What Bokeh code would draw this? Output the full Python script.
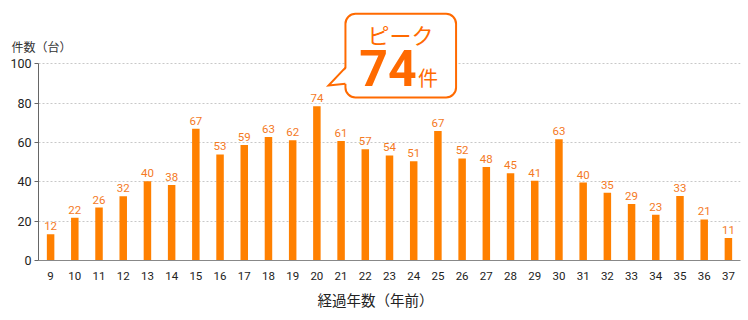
from bokeh.plotting import figure
from bokeh.models import Range1d, FixedTicker, ColumnDataSource, Label, Title
from bokeh.core.properties import value
from bokeh.embed import file_html
from bokeh.resources import INLINE

years = list(range(9, 38))
bar_heights = [13.3, 21.8, 26.9, 32.7, 40.3, 38.4, 67.0, 53.9, 58.7, 62.8, 61.2, 78.4, 60.7,
               56.6, 53.4, 50.5, 65.9, 51.9, 47.6, 44.4, 40.5, 61.7, 39.6, 34.5, 28.7, 23.3,
               32.8, 20.9, 11.4]
label_values = [12, 22, 26, 32, 40, 38, 67, 53, 59, 63, 62, 74, 61, 57, 54, 51, 67, 52, 48,
                45, 41, 63, 40, 35, 29, 23, 33, 21, 11]
y_ticks = [0, 20, 40, 60, 80, 100]
y_title = "件数（台）"
x_title = "経過年数（年前）"
peak_year = 20
peak_value = 74

ORANGE = "#FF8000"
LABEL_ORANGE = "#F47A1F"
CALLOUT = "#FF6A00"
JP = "Noto Sans CJK JP"

p = figure(width=748, height=320, output_backend="svg", toolbar_location=None,
           x_range=Range1d(8.5, 37.5), y_range=Range1d(0, 132.2),
           min_border_left=38, min_border_right=8, min_border_top=0, min_border_bottom=60)
p.outline_line_color = None
p.background_fill_color = "white"
p.border_fill_color = "white"

src = ColumnDataSource(dict(x=years, top=bar_heights, lab=[str(v) for v in label_values]))
p.vbar(x="x", top="top", width=0.31, source=src, fill_color=ORANGE, line_color=None)
p.text(x="x", y="top", text="lab", source=src, text_align="center", text_baseline="bottom",
       y_offset=-4, text_color=LABEL_ORANGE, text_font_size="11.5px", text_font=value("Roboto"))

# axes
p.xgrid.grid_line_color = None
p.ygrid.ticker = FixedTicker(ticks=y_ticks[1:])
p.ygrid.grid_line_color = "#C8C8C8"
p.ygrid.grid_line_dash = "2 2"
p.ygrid.grid_line_width = 1

p.yaxis.ticker = FixedTicker(ticks=y_ticks)
p.yaxis.bounds = (0, 100)
p.yaxis.axis_line_color = "#666666"
p.yaxis.major_tick_line_color = "#666666"
p.yaxis.major_tick_out = 4
p.yaxis.major_tick_in = 0
p.yaxis.minor_tick_line_color = None
p.yaxis.major_label_standoff = 3
p.yaxis.major_label_text_font_size = "12.5px"
p.yaxis.major_label_text_color = "#222222"
p.yaxis.major_label_text_font = "Roboto"

p.xaxis.ticker = FixedTicker(ticks=years)
p.xaxis.axis_line_color = "#888888"
p.xaxis.major_tick_line_color = None
p.xaxis.minor_tick_line_color = None
p.xaxis.major_label_standoff = 5
p.xaxis.major_label_text_font_size = "11.5px"
p.xaxis.major_label_text_color = "#222222"
p.xaxis.major_label_text_font = "Roboto"

# titles in side panels (not clipped to the frame)
p.add_layout(Title(text=x_title, align="left", offset=279, vertical_align="top", standoff=12,
                   text_font=JP, text_font_size="14.5px", text_font_style="normal",
                   text_color="#222222"), "below")
p.add_layout(Title(text=y_title, align="left", offset=-27, vertical_align="bottom",
                   standoff=-108, text_font=JP, text_font_size="12px",
                   text_font_style="normal", text_color="#333333"), "above")

# callout
bl, br = peak_year + 1.18, peak_year + 5.75
bt, bb = 125.4, 82.9
p.quad(left=[bl], right=[br], top=[bt], bottom=[bb], fill_color="white",
       line_color=CALLOUT, line_width=2, border_radius=10)
tip_x, tip_y = peak_year + 0.48, 89.0
p.patch(x=[bl + 0.08, tip_x, bl + 0.08], y=[98.1, tip_y, 89.9], fill_color="white",
        line_color=None)
p.line(x=[bl, tip_x, bl], y=[98.1, tip_y, 89.9], line_color=CALLOUT, line_width=2,
       line_join="miter")

p.add_layout(Label(x=peak_year + 3.45, y=115.4, text="ピーク", text_font=JP,
                   text_font_size="22px", text_color=CALLOUT, text_align="center",
                   text_baseline="middle"))
p.add_layout(Label(x=peak_year + 2.94, y=97.9, text=str(peak_value), text_font="Roboto",
                   text_font_size="50px", text_font_style="bold", text_color=CALLOUT,
                   text_align="center", text_baseline="middle"))
p.add_layout(Label(x=peak_year + 4.59, y=93.0, text="件", text_font=JP,
                   text_font_size="20px", text_color=CALLOUT, text_align="center",
                   text_baseline="middle"))

open("out.html", "w").write(file_html(p, INLINE))
